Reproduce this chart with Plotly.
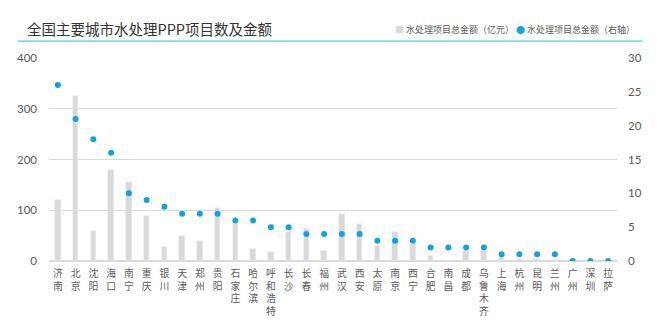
import plotly.graph_objects as go

cities = ["济南", "北京", "沈阳", "海口", "南宁", "重庆", "银川", "天津", "郑州", "贵阳",
          "石家庄", "哈尔滨", "呼和浩特", "长沙", "长春", "福州", "武汉", "西安", "太原", "南京",
          "西宁", "合肥", "南昌", "成都", "乌鲁木齐", "上海", "杭州", "昆明", "兰州", "广州",
          "深圳", "拉萨"]
amount = [120, 326, 59, 180, 156, 88, 28, 49, 39, 104,
          73, 23, 18, 58, 64, 19, 93, 73, 29, 58,
          33, 10, 0, 20, 20, 7, 3, 3, 1, 0,
          0, 0]
count = [26, 21, 18, 16, 10, 9, 8, 7, 7, 7,
         6, 6, 5, 5, 4, 4, 4, 4, 3, 3,
         3, 2, 2, 2, 2, 1, 1, 1, 1, 0,
         0, 0]
left_ticks = [0, 100, 200, 300, 400]
right_ticks = [0, 5, 10, 15, 20, 25, 30]

BAR = "#d9d9d9"
DOT = "#12a3dc"
TXT = "#595959"
CJK = "Noto Sans CJK SC"

# stack each city name vertically, one character per line
vlabels = ["<br>".join(list(c)) for c in cities]

fig = go.Figure()
fig.add_trace(go.Bar(x=cities, y=amount, marker_color=BAR, width=0.31,
                     name="水处理项目总金额（亿元）", yaxis="y"))
fig.add_trace(go.Scatter(x=cities, y=count, mode="markers",
                         marker=dict(color=DOT, size=6),
                         name="水处理项目总金额（右轴）", yaxis="y2"))

fig.update_layout(
    width=670, height=324,
    margin=dict(l=49, r=53, t=58, b=63),
    paper_bgcolor="white", plot_bgcolor="white",
    showlegend=False,
    bargap=0,
    xaxis=dict(tickmode="array", tickvals=cities, ticktext=vlabels,
               range=[-0.5, len(cities) - 0.5],
               tickangle=0, showgrid=False, showline=False, ticks="",
               automargin=False, ticklabelstandoff=5,
               tickfont=dict(family=CJK, size=9.8, color=TXT)),
    yaxis=dict(range=[0, 400], tickvals=left_ticks, showgrid=True,
               gridcolor=BAR, gridwidth=1, zeroline=True, zerolinecolor=BAR,
               ticks="", ticklabelstandoff=11, automargin=False,
               tickfont=dict(family="Lato", size=11.5, color=TXT)),
    yaxis2=dict(range=[0, 30], tickvals=right_ticks, overlaying="y", side="right",
                showgrid=False, zeroline=False, ticks="", ticklabelstandoff=10,
                automargin=False,
                tickfont=dict(family="Lato", size=11.5, color=TXT)),
)

fig.add_annotation(xref="paper", yref="paper", x=-0.042, y=1.145,
                   xanchor="left", yanchor="middle", showarrow=False,
                   text="全国主要城市水处理PPP项目数及金额",
                   font=dict(family=CJK, size=14.5, color="#333333"))
fig.add_annotation(xref="paper", yref="paper", x=1.036, y=1.142,
                   xanchor="right", yanchor="middle", showarrow=False,
                   text=f'<span style="color:{BAR}">■</span> 水处理项目总金额（亿元） '
                        f'<span style="color:{DOT}">●</span> 水处理项目总金额（右轴）',
                   font=dict(family=CJK, size=9, color=TXT))
fig.add_shape(type="line", xref="paper", yref="paper", x0=-0.055, x1=1.045,
              y0=1.083, y1=1.083,
              line=dict(color="#5cc8d0", width=1.2))

fig.write_html("out.html")
